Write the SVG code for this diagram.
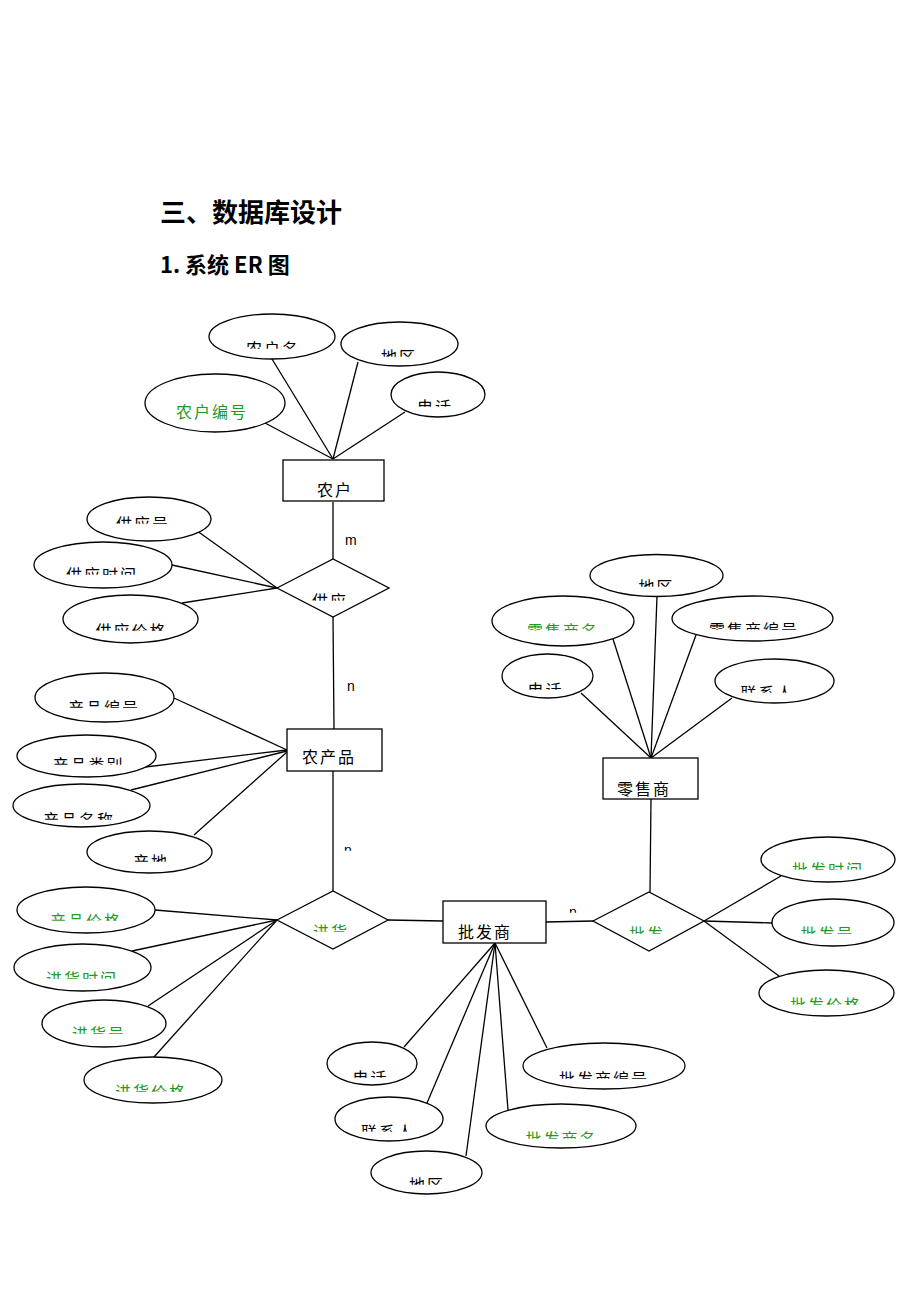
<svg xmlns="http://www.w3.org/2000/svg" width="920" height="1300" viewBox="0 0 920 1300">
<defs>
<style>
.e{fill:#fff;stroke:#000;stroke-width:1.3}
.r{fill:#fff;stroke:#000;stroke-width:1.3}
.d{fill:#fff;stroke:#000;stroke-width:1.3}
#connectors line{stroke:#000;stroke-width:1.3}
.t{font-family:"Noto Sans CJK SC",sans-serif;font-size:16px;letter-spacing:2px;text-anchor:middle;fill:#000}
.g{fill:#229922}
.cl{clip-path:url(#half)}
.lab{font-family:"Liberation Sans",sans-serif;font-size:14px;fill:#000}
.h{font-family:"Noto Sans CJK SC",sans-serif;font-weight:bold;fill:#000}
</style>
<clipPath id="half" clipPathUnits="objectBoundingBox"><rect x="-0.1" y="0" width="1.2" height="0.55"/></clipPath>
</defs>
<rect width="920" height="1300" fill="#fff"/>
<text class="h" x="160" y="222" font-size="26">三、数据库设计</text>
<text class="h" x="160" y="273" font-size="22">1. 系统 ER 图</text>

<g id="connectors">
<line x1="333" y1="459" x2="272" y2="359"/>
<line x1="333" y1="459" x2="358" y2="362"/>
<line x1="333" y1="459" x2="265" y2="423"/>
<line x1="333" y1="459" x2="405" y2="412"/>
<line x1="333" y1="502" x2="333" y2="559"/>
<line x1="333" y1="617" x2="334" y2="729"/>
<line x1="277" y1="588" x2="193" y2="528"/>
<line x1="277" y1="588" x2="172" y2="565"/>
<line x1="277" y1="588" x2="182" y2="603"/>
<line x1="651" y1="758" x2="657" y2="596"/>
<line x1="651" y1="758" x2="613" y2="639"/>
<line x1="651" y1="758" x2="696" y2="635"/>
<line x1="651" y1="758" x2="581" y2="693"/>
<line x1="651" y1="758" x2="732" y2="698"/>
<line x1="651" y1="799" x2="650" y2="892"/>
<line x1="287" y1="750" x2="174" y2="698"/>
<line x1="287" y1="750" x2="137" y2="768"/>
<line x1="287" y1="751" x2="131" y2="790"/>
<line x1="287" y1="752" x2="194" y2="835"/>
<line x1="333" y1="771" x2="333" y2="891"/>
<line x1="277" y1="920" x2="155" y2="910"/>
<line x1="277" y1="920" x2="132" y2="951"/>
<line x1="277" y1="920" x2="148" y2="1006"/>
<line x1="277" y1="920" x2="154" y2="1057"/>
<line x1="388" y1="920" x2="443" y2="921"/>
<line x1="546" y1="922" x2="593" y2="921"/>
<line x1="704" y1="921" x2="781" y2="876"/>
<line x1="704" y1="921" x2="772" y2="923"/>
<line x1="704" y1="921" x2="779" y2="976"/>
<line x1="495" y1="943" x2="404" y2="1047"/>
<line x1="495" y1="943" x2="427" y2="1103"/>
<line x1="495" y1="943" x2="466" y2="1156"/>
<line x1="495" y1="943" x2="508" y2="1110"/>
<line x1="495" y1="943" x2="547" y2="1048"/>
</g>

<g id="labels">
<text class="lab" x="345" y="545">m</text>
<text class="lab" x="347" y="691">n</text>
<text class="lab cl" x="344" y="855" font-size="12">n</text>
<text class="lab cl" x="569" y="917" font-size="12">n</text>
</g>

<g id="farmer"><rect class="r" x="283" y="460" width="101" height="41"/><text class="t" x="335" y="496" letter-spacing="3">农户</text></g>
<g id="a-farmer-name"><ellipse class="e" cx="272" cy="336.5" rx="63" ry="22.5"/><text class="t cl" x="273" y="354.5">农户名</text></g>
<g id="a-farmer-region"><ellipse class="e" cx="399.5" cy="344" rx="58.5" ry="22"/><text class="t cl" x="399" y="362.5">地区</text></g>
<g id="a-farmer-phone"><ellipse class="e" cx="438" cy="394.5" rx="47" ry="22.5"/><text class="t cl" x="435" y="412.5">电话</text></g>
<g id="a-farmer-id"><ellipse class="e" cx="215" cy="403" rx="70" ry="29"/><text class="t g" x="212" y="418" font-size="18" letter-spacing="0">农户编号</text></g>

<g id="supply"><polygon class="d" points="277,588 333,559 389,588 333,617"/><text class="t cl" x="330" y="606.5">供应</text></g>
<g id="a-supply-no"><ellipse class="e" cx="149" cy="519" rx="62" ry="22"/><text class="t cl" x="143" y="529.5">供应号</text></g>
<g id="a-supply-time"><ellipse class="e" cx="103" cy="565" rx="69" ry="23"/><text class="t cl" x="102" y="580.5">供应时间</text></g>
<g id="a-supply-price"><ellipse class="e" cx="130.5" cy="619" rx="67.5" ry="24"/><text class="t cl" x="131.5" y="636.5">供应价格</text></g>

<g id="product"><rect class="r" x="287" y="729" width="95" height="42"/><text class="t" x="329" y="763">农产品</text></g>
<g id="a-prod-id"><ellipse class="e" cx="104.5" cy="697.5" rx="69.5" ry="24.5"/><text class="t cl" x="104" y="713.5">产品编号</text></g>
<g id="a-prod-cat"><ellipse class="e" cx="86.5" cy="756" rx="69.5" ry="21"/><text class="t cl" x="88.5" y="770.5">产品类别</text></g>
<g id="a-prod-name"><ellipse class="e" cx="81.5" cy="805.5" rx="68.5" ry="21.5"/><text class="t cl" x="79" y="825.5">产品名称</text></g>
<g id="a-prod-origin"><ellipse class="e" cx="149.5" cy="852" rx="62.5" ry="21"/><text class="t cl" x="151" y="867.5">产地</text></g>

<g id="purchase"><polygon class="d" points="277,920 333,891 388,920 333,949"/><text class="t g cl" x="331" y="937.5">进货</text></g>
<g id="a-pur-prodprice"><ellipse class="e" cx="86" cy="910" rx="69" ry="23"/><text class="t g cl" x="86" y="926.5">产品价格</text></g>
<g id="a-pur-time"><ellipse class="e" cx="82.5" cy="967.5" rx="68.5" ry="23.5"/><text class="t g cl" x="82" y="984.5">进货时间</text></g>
<g id="a-pur-no"><ellipse class="e" cx="104" cy="1023.5" rx="62" ry="23.5"/><text class="t g cl" x="99" y="1039.5">进货号</text></g>
<g id="a-pur-price"><ellipse class="e" cx="153" cy="1080" rx="69" ry="23"/><text class="t g cl" x="151" y="1097.5">进货价格</text></g>

<g id="wholesaler"><rect class="r" x="443" y="901" width="103" height="42"/><text class="t" x="485" y="938">批发商</text></g>
<g id="a-ws-phone"><ellipse class="e" cx="372" cy="1063.5" rx="45" ry="21.5"/><text class="t cl" x="370.5" y="1083.5">电话</text></g>
<g id="a-ws-contact"><ellipse class="e" cx="389" cy="1119" rx="54" ry="22"/><text class="t cl" x="388" y="1137.5">联系人</text></g>
<g id="a-ws-region"><ellipse class="e" cx="426.5" cy="1172.5" rx="55.5" ry="21.5"/><text class="t cl" x="427" y="1190.5">地区</text></g>
<g id="a-ws-id"><ellipse class="e" cx="604" cy="1066" rx="81" ry="23"/><text class="t cl" x="604" y="1084.5">批发商编号</text></g>
<g id="a-ws-name"><ellipse class="e" cx="561" cy="1126" rx="75" ry="22"/><text class="t g cl" x="561.5" y="1144.5">批发商名</text></g>

<g id="wholesale"><polygon class="d" points="593,921 649,892 704,921 649,951"/><text class="t g cl" x="647" y="939.5">批发</text></g>
<g id="a-wsale-time"><ellipse class="e" cx="828" cy="859.5" rx="67" ry="22.5"/><text class="t g cl" x="828" y="875.5">批发时间</text></g>
<g id="a-wsale-no"><ellipse class="e" cx="833" cy="922.5" rx="61" ry="23.5"/><text class="t g cl" x="827.5" y="939.5">批发号</text></g>
<g id="a-wsale-price"><ellipse class="e" cx="826.5" cy="993" rx="67.5" ry="23"/><text class="t g cl" x="826" y="1010.5">批发价格</text></g>

<g id="retailer"><rect class="r" x="603" y="758" width="95" height="41"/><text class="t" x="644" y="794.5">零售商</text></g>
<g id="a-rt-region"><ellipse class="e" cx="656.5" cy="575.5" rx="66.5" ry="21"/><text class="t cl" x="656.5" y="592.5">地区</text></g>
<g id="a-rt-name"><ellipse class="e" cx="563" cy="621" rx="71" ry="25"/><text class="t g cl" x="563" y="636.5">零售商名</text></g>
<g id="a-rt-id"><ellipse class="e" cx="752.5" cy="618.5" rx="80.5" ry="22.5"/><text class="t cl" x="754" y="635.5">零售商编号</text></g>
<g id="a-rt-phone"><ellipse class="e" cx="547.5" cy="676" rx="45.5" ry="22"/><text class="t cl" x="545.5" y="695.5">电话</text></g>
<g id="a-rt-contact"><ellipse class="e" cx="774.5" cy="681" rx="59.5" ry="22"/><text class="t cl" x="767.5" y="698.5">联系人</text></g>
</svg>
